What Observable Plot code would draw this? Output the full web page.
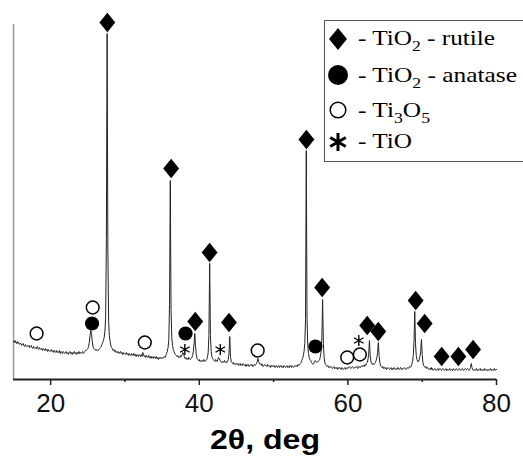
<!DOCTYPE html>
<html><head><meta charset="utf-8">
<script src="https://cdn.jsdelivr.net/npm/d3@7"></script>
<script src="https://cdn.jsdelivr.net/npm/@observablehq/plot@0.6"></script>
<style>
html,body{margin:0;padding:0;background:#fff;overflow:hidden;}
#wrap{position:relative;width:523px;height:458px;}
#wrap svg.overlay{position:absolute;left:0;top:0;pointer-events:none;}
</style></head><body><div id="wrap"></div>
<script>
// XRD pattern: intensity (a.u.) sampled every 0.1 deg from 15.0 to 80.0 deg (2θ)
const twoThetaStart = 15.0;
const twoThetaStep = 0.1;
const intensity = [
 38,37,39,37,36,38,36,37,35,36, // 15
 36,34,35,36,34,33,35,34,33,34, // 16
 33,34,32,33,34,32,31,33,32,31, // 17
 32,31,33,31,30,32,31,30,31,29, // 18
 31,30,29,31,29,30,28,30,29,28, // 19
 29,30,28,29,27,29,28,27,29,27, // 20
 28,27,29,26,28,27,26,28,27,26, // 21
 27,28,26,27,25,27,28,26,27,25, // 22
 27,26,28,26,27,25,27,26,28,26, // 23
 27,26,27,28,26,27,28,29,29,30, // 24
 31,33,37,44,49,46,38,33,31,30, // 25
 30,29,30,29,29,30,31,32,33,35, // 26
 37,39,42,48,62,140,346,130,58,44, // 27
 38,34,32,31,29,30,28,29,27,28, // 28
 27,28,26,27,28,26,27,25,27,26, // 29
 26,25,27,25,26,24,26,25,24,26, // 30
 25,24,26,24,25,23,25,24,23,25, // 31
 24,23,25,23,27,25,23,24,22,24, // 32
 23,22,24,22,23,21,23,22,21,23, // 33
 22,21,23,21,22,20,22,21,22,21, // 34
 22,21,22,23,22,24,26,28,32,40, // 35
 75,199,70,42,34,30,28,26,25,24, // 36
 23,24,22,23,22,24,23,25,27,25, // 37
 23,21,22,20,21,20,22,21,20,21, // 38
 22,24,28,36,46,33,25,21,20,19, // 39
 20,18,19,18,19,18,20,19,18,19, // 40
 20,22,27,45,116,44,28,23,21,20, // 41
 19,18,20,19,18,20,22,21,19,18, // 42
 17,18,17,18,19,17,18,17,18,20, // 43
 26,43,23,18,17,16,17,15,16,15, // 44
 16,15,16,14,15,16,14,15,14,16, // 45
 15,14,15,13,15,14,15,13,14,15, // 46
 14,15,13,14,15,14,15,16,18,21, // 47
 18,16,15,16,14,15,13,14,15,14, // 48
 14,13,15,14,13,14,12,14,13,14, // 49
 13,14,12,13,14,12,13,14,12,13, // 50
 14,12,13,12,14,13,12,13,14,12, // 51
 13,12,14,13,12,14,13,12,13,14, // 52
 13,14,13,15,14,15,16,17,19,21, // 53
 24,28,36,60,229,62,34,26,22,20, // 54
 19,17,16,15,16,18,19,18,17,18, // 55
 18,19,20,23,28,42,80,36,22,17, // 56
 15,14,13,14,12,13,12,13,12,11, // 57
 12,13,11,12,11,12,10,12,11,12, // 58
 11,10,12,11,10,11,12,10,11,12, // 59
 11,12,13,12,11,12,13,12,11,12, // 60
 12,13,12,11,13,12,13,12,13,14, // 61
 13,14,13,15,14,16,17,20,25,39, // 62
 24,18,16,15,16,15,16,17,19,22, // 63
 27,37,24,17,14,13,12,13,11,12, // 64
 11,12,10,11,12,11,10,11,12,10, // 65
 11,10,12,11,10,11,10,12,11,10, // 66
 11,12,10,11,10,11,12,11,10,11, // 67
 12,11,12,13,12,13,15,18,24,38, // 68
 68,36,24,20,18,18,20,23,28,40, // 69
 25,17,14,13,12,13,11,12,11,10, // 70
 11,10,12,10,11,9,10,11,10,9,   // 71
 10,11,9,10,11,10,9,10,11,10,   // 72
 9,10,11,9,10,9,10,11,9,10,     // 73
 10,9,11,10,9,10,11,10,9,10,    // 74
 11,10,9,10,11,10,9,10,11,10,   // 75
 10,11,10,9,10,12,16,12,10,9,   // 76
 10,9,10,11,9,10,9,10,11,9,     // 77
 10,9,10,9,11,10,9,10,9,10,     // 78
 9,10,11,9,10,9,10,11,9,10,     // 79
 10                             // 80
];

// Phase markers: [2θ, marker height]
const rutileMarks = [[27.63,357],[36.22,211],[39.46,58],[41.39,127],[44.0,57],[54.42,240],[56.54,92],[62.6,54],[64.09,48],[69.12,79],[70.33,56],[72.62,23],[74.87,23],[76.85,30]];
const anataseMarks = [[25.57,56],[38.15,46],[55.63,33]];
const ti3o5Marks = [[18.11,46],[25.66,72],[32.67,37],[47.86,29],[59.91,22],[61.61,25]];
const tioMarks = [[38.06,30],[42.83,30],[61.47,39]];

const majorTicks = [20,40,60,80];
const minorTicks = [30,50,70];
const xLabel = "2θ, deg";

const legendItems = [
  {sym:"diamond", parts:[["- TiO",0],["2",1],[" - rutile",0]], len:137},
  {sym:"disc", parts:[["- TiO",0],["2",1],[" - anatase",0]], len:159},
  {sym:"ring", parts:[["- Ti",0],["3",1],["O",0],["5",1]], len:72},
  {sym:"asterisk", parts:[["- TiO",0]], len:54}
];

const spectrum = intensity.map((v,i)=>({x: +(twoThetaStart + i*twoThetaStep).toFixed(1), y: v}));
const toObj = a => a.map(([x,y])=>({x,y}));

const diamondSym = {draw(ctx, size){ const s=Math.sqrt(size); const hw=s*0.65, hh=s*0.8;
  ctx.moveTo(0,-hh); ctx.lineTo(hw,0); ctx.lineTo(0,hh); ctx.lineTo(-hw,0); ctx.closePath(); }};
const asteriskSym = {draw(ctx, size){ const a=Math.sqrt(size)*0.45; const c=a*Math.cos(Math.PI/6), h=a/2;
  ctx.moveTo(0,-a); ctx.lineTo(0,a); ctx.moveTo(-c,-h); ctx.lineTo(c,h); ctx.moveTo(-c,h); ctx.lineTo(c,-h); }};

const chart = Plot.plot({
  width: 523, height: 458,
  marginLeft: 13, marginRight: 27, marginTop: 24, marginBottom: 79,
  x: {domain: [15, 80]},
  y: {domain: [0, 355], axis: null},
  style: {fontFamily: "Liberation Sans, Arial, sans-serif", color: "#111", background: "#fff"},
  marks: [
    Plot.ruleX([15], {stroke: "#9a9a9a", strokeWidth: 1.5}),
    Plot.line(spectrum, {x: "x", y: "y", stroke: "#222", strokeWidth: 1}),
    Plot.ruleY([0], {stroke: "#222", strokeWidth: 2}),
    Plot.axisX({ticks: majorTicks, tickSize: 6, tickPadding: 8, fontSize: 26, stroke: "#222", strokeWidth: 1.5, label: null}),
    Plot.axisX({ticks: minorTicks, tickSize: 3, tickFormat: () => "", stroke: "#222", strokeWidth: 1.5, label: null}),
    Plot.dot(toObj(rutileMarks), {x: "x", y: "y", symbol: diamondSym, r: 6.9, fill: "#000", stroke: "none"}),
    Plot.dot(toObj(anataseMarks), {x: "x", y: "y", r: 7.1, fill: "#000", stroke: "none"}),
    Plot.dot(toObj(ti3o5Marks), {x: "x", y: "y", r: 6.4, fill: "#fff", stroke: "#000", strokeWidth: 1.5}),
    Plot.dot(toObj(tioMarks), {x: "x", y: "y", symbol: asteriskSym, r: 6.9, fill: "none", stroke: "#000", strokeWidth: 1.4}),
    Plot.text([xLabel], {text: d => d, frameAnchor: "bottom", lineAnchor: "bottom", dy: 69, dx: 10, fontSize: 27, fontWeight: "bold", fill: "#000"})
  ]
});
const wrap = document.getElementById("wrap");
wrap.appendChild(chart);
// widen the bold axis title to match the reference proportions
d3.select(chart).selectAll("text").filter(function(){ return this.textContent === xLabel; })
  .attr("textLength", 110).attr("lengthAdjust", "spacingAndGlyphs");

// Legend overlay
const svg = d3.select(wrap).append("svg").attr("class","overlay").attr("width",523).attr("height",458);
svg.append("rect").attr("x",324.5).attr("y",20.5).attr("width",220).attr("height",141)
  .attr("fill","#fff").attr("stroke","#555").attr("stroke-width",1);
const rowsY = [39, 75, 110, 142];
const baseY = [45, 82, 117, 148];
legendItems.forEach((it, i) => {
  const cx = 338, cy = rowsY[i];
  if (it.sym === "diamond") svg.append("path").attr("d", `M${cx},${cy-11}L${cx+9},${cy}L${cx},${cy+11}L${cx-9},${cy}Z`).attr("fill","#000");
  if (it.sym === "disc") svg.append("circle").attr("cx",cx).attr("cy",cy).attr("r",10).attr("fill","#000");
  if (it.sym === "ring") svg.append("circle").attr("cx",cx).attr("cy",cy).attr("r",7.8).attr("fill","none").attr("stroke","#000").attr("stroke-width",1.5);
  if (it.sym === "asterisk") {
    const a = 9, c = a*Math.cos(Math.PI/6), h = a/2;
    svg.append("path").attr("d", `M${cx},${cy-a}L${cx},${cy+a}M${cx-c},${cy-h}L${cx+c},${cy+h}M${cx-c},${cy+h}L${cx+c},${cy-h}`)
      .attr("stroke","#000").attr("stroke-width",3).attr("fill","none");
  }
  const t = svg.append("text").attr("x",358).attr("y",baseY[i])
    .attr("font-family","Liberation Serif, Times New Roman, serif").attr("font-size",21.5).attr("fill","#000")
    .attr("textLength", it.len).attr("lengthAdjust","spacingAndGlyphs");
  let shifted = false;
  it.parts.forEach(([s, sub]) => {
    const ts = t.append("tspan").text(s);
    if (sub && !shifted) { ts.attr("dy", 6).attr("font-size", 15); shifted = true; }
    else if (sub && shifted) { ts.attr("font-size", 15); }
    else if (!sub && shifted) { ts.attr("dy", -6); shifted = false; }
  });
});
</script></body></html>
